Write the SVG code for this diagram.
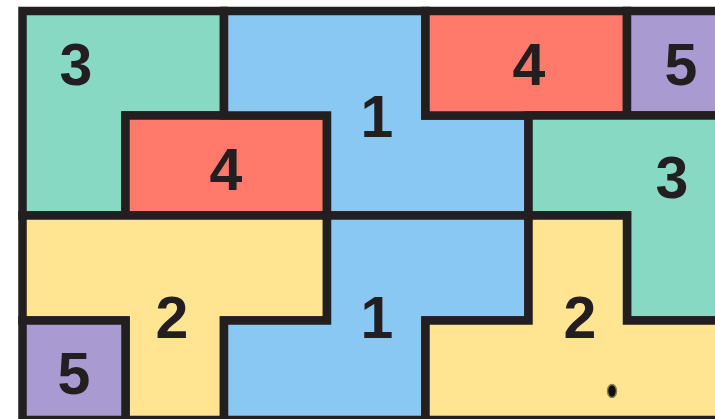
<svg xmlns="http://www.w3.org/2000/svg" width="715" height="419" viewBox="0 0 715 419">
<style>
.r{stroke:#231F20;stroke-width:8.5;stroke-linejoin:miter}
.g{fill:#88D9C3}.b{fill:#88C8F2}.o{fill:#FF7A6A}.p{fill:#A99BD1}.y{fill:#FFE591}
text{font-family:"Liberation Sans",Arial,sans-serif;font-weight:bold;font-size:59px;fill:#231F20;text-anchor:middle}
</style>
<rect width="715" height="419" fill="#ffffff"/>
<g id="green3a"><path class="r g" d="M22.5,11 H224 V115.5 H125.5 V215.5 H22.5 Z"/><text x="76" y="85">3</text></g>
<g id="red4a"><path class="r o" d="M125.5,115.5 H327 V215.5 H125.5 Z"/><text x="226" y="190">4</text></g>
<g id="blue1a"><path class="r b" d="M224,11 H425.5 V115.5 H528.5 V215.5 H327 V115.5 H224 Z"/><text x="377" y="137">1</text></g>
<g id="red4b"><path class="r o" d="M425.5,11 H627 V115.5 H425.5 Z"/><text x="529" y="85">4</text></g>
<g id="purple5a"><path class="r p" d="M627,11 H730 V115.5 H627 Z"/><text x="681" y="85">5</text></g>
<g id="green3b"><path class="r g" d="M528.5,115.5 H730 V320.5 H627 V215.5 H528.5 Z"/><text x="672" y="198">3</text></g>
<g id="yellow2a"><path class="r y" d="M22.5,215.5 H327 V320.5 H224 V420 H125.5 V320.5 H22.5 Z"/><text x="172" y="338">2</text></g>
<g id="purple5b"><path class="r p" d="M22.5,320.5 H125.5 V420 H22.5 Z"/><text x="74" y="394">5</text></g>
<g id="blue1b"><path class="r b" d="M327,215.5 H528.5 V320.5 H425.5 V420 H224 V320.5 H327 Z"/><text x="377" y="338">1</text></g>
<g id="yellow2b"><path class="r y" d="M528.5,215.5 H627 V320.5 H730 V420 H425.5 V320.5 H528.5 Z"/><text x="580" y="338">2</text></g>
<g id="connectors"></g>
<ellipse cx="612" cy="391" rx="4.5" ry="6.5" fill="#111" stroke="#8a7f4a" stroke-width="1.5"/>
</svg>
